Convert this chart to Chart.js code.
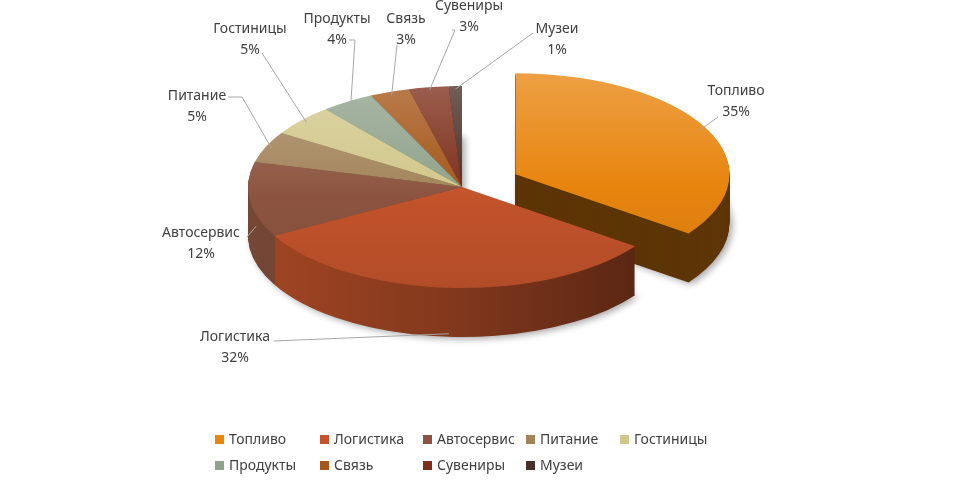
<!DOCTYPE html>
<html><head><meta charset="utf-8">
<script src="https://cdn.jsdelivr.net/npm/chart.js@4.4.1/dist/chart.umd.min.js"></script>
<style>
html,body{margin:0;padding:0;background:#fff;}
#wrap{position:relative;width:960px;height:496px;overflow:hidden;background:#fff;}
#c{position:absolute;left:0;top:0;}
.lg{position:absolute;font:14px "Noto Sans",sans-serif;color:#404040;white-space:nowrap;line-height:18px;transform:translateY(-50%);}
.lg i{display:inline-block;width:9px;height:9px;margin-right:5px;vertical-align:0px;}
</style></head>
<body><div id="wrap"><canvas id="c" width="960" height="496"></canvas><div id="legend"></div></div>
<script>
// ---- data ----
const categories = ['Топливо','Логистика','Автосервис','Питание','Гостиницы','Продукты','Связь','Сувениры','Музеи'];
const shares = [35, 32, 12, 5, 5, 4, 3, 3, 1];
const percentLabels = shares.map(v => v + '%');

// ---- styles / layout ----
const topColors = ['#E8850F','#C2532B','#8C5440','#A3845A','#D1C78A','#8FA28B','#A5561A','#7E2F1C','#4A3028'];
const sideFlat  = [0.40, null, null, null, null, null, null, null, null];
const CX = 462, CY = 187, RX = 214, RY = 101, DEPTH = 49, EXPLODE = 60, EXPLODE_INDEX = 0;
const K = RY / RX;
// label text position, leader start, elbow length, side fraction (0 = top edge, 1 = bottom of side)
const labelLayout = [
  {x:736, y:91,  lx:718, ly:117, ex:0,  side:0},
  {x:235, y:337, lx:274, ly:341, ex:0,  side:1},
  {x:201, y:233, lx:247, ly:237, ex:0,  side:0.55},
  {x:197, y:96,  lx:228, ly:97,  ex:14, side:0},
  {x:250, y:29,  lx:262, ly:53,  ex:0,  side:0},
  {x:337, y:19,  lx:349, ly:40,  ex:6,  side:0},
  {x:406, y:19,  lx:397, ly:45,  ex:0,  side:0},
  {x:469, y:6,   lx:452, ly:30,  ex:3,  side:0},
  {x:557, y:29,  lx:533, ly:33,  ex:0,  side:0}
];
const legendCols = [215, 320, 423, 526, 620];
const legendRows = [439, 465];

function hexRgb(h){const n=parseInt(h.slice(1),16);return [(n>>16)&255,(n>>8)&255,n&255];}
function shade(h,f){const c=hexRgb(h);return 'rgb('+c.map(v=>Math.round(v*f)).join(',')+')';}
function tint(h,f){const c=hexRgb(h);return 'rgb('+c.map(v=>Math.round(v+(255-v)*f)).join(',')+')';}

function shiftOf(i, a){
  if (i !== EXPLODE_INDEX) return {x:0,y:0};
  const mid = (a.startAngle + a.endAngle) / 2;
  return {x: Math.cos(mid) * EXPLODE, y: Math.sin(mid) * EXPLODE};
}

const pie3d = {
  id: 'pie3d',
  beforeDatasetsDraw(chart){
    const ctx = chart.ctx;
    const arcs = chart.getDatasetMeta(0).data;
    const ax = arcs[0].x, ay = arcs[0].y;
    ctx.save();
    ctx.translate(CX, CY); ctx.scale(1, K); ctx.translate(-ax, -ay);
    const midY = i => { const a = arcs[i]; const m=(a.startAngle+a.endAngle)/2; return Math.sin(m)*a.outerRadius + shiftOf(i,a).y; };
    const order = arcs.map((a,i)=>i).sort((p,q)=>midY(p)-midY(q));
    // extrusion (sides)
    for (const i of order){
      const a = arcs[i];
      const sh = shiftOf(i, a);
      let fill;
      if (sideFlat[i] != null) {
        fill = shade(topColors[i], sideFlat[i]);
      } else {
        fill = ctx.createLinearGradient(ax - RX, 0, ax + RX + 54, 0);
        fill.addColorStop(0, shade(topColors[i], 0.84));
        fill.addColorStop(0.45, shade(topColors[i], 0.66));
        fill.addColorStop(1, shade(topColors[i], 0.36));
      }
      for (let d = DEPTH; d >= 1; d--){
        ctx.save();
        if (d === DEPTH){ ctx.shadowColor='rgba(0,0,0,0.35)'; ctx.shadowBlur=7; ctx.shadowOffsetX=3; ctx.shadowOffsetY=2; }
        ctx.translate(sh.x, sh.y + d / K);
        ctx.beginPath();
        ctx.moveTo(a.x, a.y);
        ctx.arc(a.x, a.y, a.outerRadius, a.startAngle, a.endAngle);
        ctx.closePath();
        ctx.fillStyle = fill;
        ctx.fill();
        ctx.restore();
      }
    }
    // top faces drawn by the library's arc elements
    for (const i of order){
      const a = arcs[i];
      const sh = shiftOf(i, a);
      ctx.save();
      ctx.translate(sh.x, sh.y);
      a.draw(ctx, chart.chartArea);
      ctx.restore();
    }
    ctx.restore();
    return false;
  },
  afterDraw(chart){
    const ctx = chart.ctx;
    const arcs = chart.getDatasetMeta(0).data;
    ctx.save();
    ctx.font = '14px "Noto Sans", sans-serif';
    ctx.textAlign = 'center'; ctx.textBaseline = 'middle';
    arcs.forEach((a, i) => {
      const L = labelLayout[i];
      const sh = shiftOf(i, a);
      const mid = (a.startAngle + a.endAngle) / 2;
      const px = CX + Math.cos(mid) * a.outerRadius * 0.97 + sh.x;
      const py = CY + (Math.sin(mid) * a.outerRadius * 0.97 + sh.y) * K + DEPTH * L.side;
      ctx.strokeStyle = '#A6A6A6'; ctx.lineWidth = 1;
      ctx.beginPath(); ctx.moveTo(L.lx, L.ly);
      if (L.ex) ctx.lineTo(L.lx + L.ex, L.ly);
      ctx.lineTo(px, py); ctx.stroke();
      ctx.fillStyle = '#404040';
      ctx.fillText(categories[i], L.x, L.y);
      ctx.fillText(percentLabels[i], L.x, L.y + 21);
    });
    ctx.restore();
  }
};

new Chart(document.getElementById('c'), {
  type: 'pie',
  data: {
    labels: categories,
    datasets: [{
      data: shares,
      borderWidth: 0,
      backgroundColor: (c) => {
        const col = topColors[c.dataIndex];
        const area = c.chart.chartArea;
        if (!area) return col;
        const cy = (area.top + area.bottom) / 2;
        const g = c.chart.ctx.createLinearGradient(0, cy - RX, 0, cy + RX);
        g.addColorStop(0, tint(col, 0.22));
        g.addColorStop(0.55, col);
        g.addColorStop(1, shade(col, 0.92));
        return g;
      }
    }]
  },
  options: {
    responsive: false,
    animation: false,
    radius: RX,
    rotation: 0,
    layout: {padding: 0},
    plugins: {legend: {display: false}, tooltip: {enabled: false}}
  },
  plugins: [pie3d]
});

// HTML legend
const lg = document.getElementById('legend');
categories.forEach((name, i) => {
  const row = i < 5 ? 0 : 1, col = i < 5 ? i : i - 5;
  const d = document.createElement('div');
  d.className = 'lg';
  d.style.left = legendCols[col] + 'px';
  d.style.top = legendRows[row] + 'px';
  d.innerHTML = '<i style="background:' + topColors[i] + '"></i>' + name;
  lg.appendChild(d);
});
</script>
</body></html>
